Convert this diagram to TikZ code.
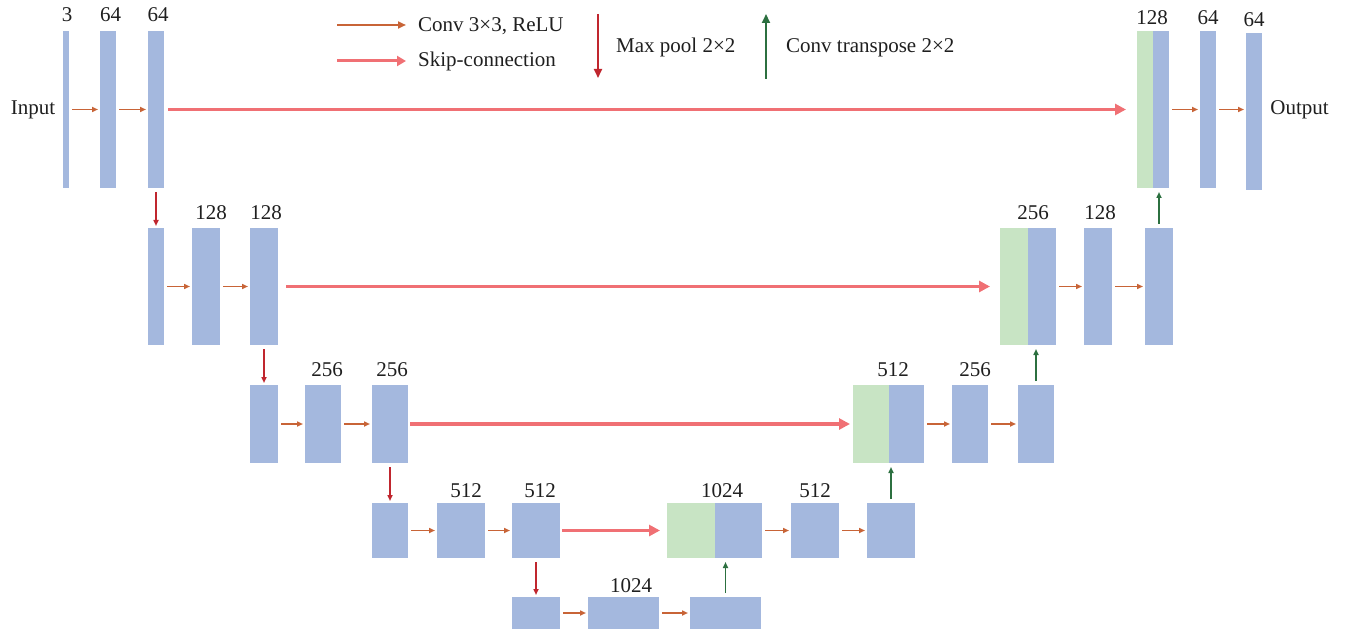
\documentclass[tikz,border=0pt]{standalone}
\usepackage{fontspec}
\setmainfont{Liberation Serif}
\usetikzlibrary{arrows.meta,fit}
\definecolor{ublue}{RGB}{164,184,222}
\definecolor{ugreen}{RGB}{200,228,196}
\definecolor{convc}{RGB}{200,100,55}
\definecolor{skipc}{RGB}{240,112,116}
\definecolor{poolc}{RGB}{192,38,46}
\definecolor{upc}{RGB}{44,112,64}
\newcommand\ublk[6]{\node[#1, fit={(#3,#4) (#5,#6)}] (#2) {};}
\begin{document}
\begin{tikzpicture}[x=1pt,y=-1pt,
  bl/.style={fill=ublue, draw=none, inner sep=0pt, outer sep=0pt},
  gr/.style={fill=ugreen, draw=none, inner sep=0pt, outer sep=0pt},
  txt/.style={font=\fontsize{21}{25}\selectfont, text=black!88, inner sep=0pt, anchor=base},
  ltxt/.style={font=\fontsize{21}{25}\selectfont, text=black!88, inner sep=0pt, anchor=base west},
  conv/.style={draw=convc, line width=1.5pt, -{Triangle[length=6pt,width=5pt]}, shorten <=3pt, shorten >=2pt},
  skip/.style={draw=skipc, line width=3.2pt, -{Triangle[length=11pt,width=11pt]}},
  pool/.style={draw=poolc, line width=1.5pt, -{Triangle[length=6pt,width=5pt]}, shorten <=4pt, shorten >=2pt},
  upc/.style={draw=upc, line width=1.5pt, -{Triangle[length=6pt,width=5pt]}, shorten <=4pt, shorten >=4pt},
]
\useasboundingbox (0,0) rectangle (1345,631);
% level 1
\ublk{bl}{a1}{63}{31}{69}{188}
\ublk{bl}{a2}{100}{31}{116}{188}
\ublk{bl}{a3}{148}{31}{164}{188}
\ublk{gr}{g1}{1137}{31}{1153}{188}
\ublk{bl}{c1}{1153}{31}{1169}{188}
\ublk{bl}{a4}{1200}{31}{1216}{188}
\ublk{bl}{a5}{1246}{33}{1262}{190}
% level 2
\ublk{bl}{b1}{148}{228}{164}{345}
\ublk{bl}{b2}{192}{228}{220}{345}
\ublk{bl}{b3}{250}{228}{278}{345}
\ublk{gr}{g2}{1000}{228}{1028}{345}
\ublk{bl}{c2}{1028}{228}{1056}{345}
\ublk{bl}{b4}{1084}{228}{1112}{345}
\ublk{bl}{b5}{1145}{228}{1173}{345}
% level 3
\ublk{bl}{d1}{250}{385}{278}{463}
\ublk{bl}{d2}{305}{385}{341}{463}
\ublk{bl}{d3}{372}{385}{408}{463}
\ublk{gr}{g3}{853}{385}{889}{463}
\ublk{bl}{c3}{889}{385}{924}{463}
\ublk{bl}{d4}{952}{385}{988}{463}
\ublk{bl}{d5}{1018}{385}{1054}{463}
% level 4
\ublk{bl}{e1}{372}{503}{408}{558}
\ublk{bl}{e2}{437}{503}{485}{558}
\ublk{bl}{e3}{512}{503}{560}{558}
\ublk{gr}{g4}{667}{503}{715}{558}
\ublk{bl}{c4}{715}{503}{762}{558}
\ublk{bl}{e4}{791}{503}{839}{558}
\ublk{bl}{e5}{867}{503}{915}{558}
% level 5
\ublk{bl}{f1}{512}{597}{560}{629}
\ublk{bl}{f2}{588}{597}{659}{629}
\ublk{bl}{f3}{690}{597}{761}{629}
% labels
\node[txt] (t1) at (67,22) {3};
\node[txt] (t2) at (110.5,22) {64};
\node[txt] (t3) at (158,22) {64};
\node[txt] (t4) at (1152,25) {128};
\node[txt] (t5) at (1208,25) {64};
\node[txt] (t6) at (1254,27) {64};
\node[txt] (t7) at (211,220) {128};
\node[txt] (t8) at (266,220) {128};
\node[txt] (t9) at (1033,220) {256};
\node[txt] (t10) at (1100,220) {128};
\node[txt] (t11) at (327,376) {256};
\node[txt] (t12) at (392,376) {256};
\node[txt] (t13) at (893,376) {512};
\node[txt] (t14) at (975,376) {256};
\node[txt] (t15) at (466,497) {512};
\node[txt] (t16) at (540,497) {512};
\node[txt] (t17) at (722,497) {1024};
\node[txt] (t18) at (815,497) {512};
\node[txt] (t19) at (631,592) {1024};
\node[txt] (in) at (33,115) {Input};
\node[txt] (out) at (1299.5,115) {Output};
% conv arrows
\draw[conv] (a1.east) -- (a2.west);
\draw[conv] (a2.east) -- (a3.west);
\draw[conv] (c1.east) -- (a4.west);
\draw[conv] (a4.east) -- (a4.east -| a5.west);
\draw[conv] (b1.east) -- (b2.west);
\draw[conv] (b2.east) -- (b3.west);
\draw[conv] (c2.east) -- (b4.west);
\draw[conv] (b4.east) -- (b5.west);
\draw[conv] (d1.east) -- (d2.west);
\draw[conv] (d2.east) -- (d3.west);
\draw[conv] (c3.east) -- (d4.west);
\draw[conv] (d4.east) -- (d5.west);
\draw[conv] (e1.east) -- (e2.west);
\draw[conv] (e2.east) -- (e3.west);
\draw[conv] (c4.east) -- (e4.west);
\draw[conv] (e4.east) -- (e5.west);
\draw[conv] (f1.east) -- (f2.west);
\draw[conv] (f2.east) -- (f3.west);
% skip connections
\draw[skip, shorten <=4pt, shorten >=11pt] (a3.east) -- (a3.east -| g1.west);
\draw[skip, shorten <=8pt, shorten >=10pt] (b3.east) -- (b3.east -| g2.west);
\draw[skip, shorten <=2pt, shorten >=3pt] (d3.east) -- (d3.east -| g3.west);
\draw[skip, shorten <=2pt, shorten >=7pt] (e3.east) -- (e3.east -| g4.west);
% max pool
\draw[pool] (a3.south) -- (b1.north);
\draw[pool] (b3.south) -- (d1.north);
\draw[pool] (d3.south) -- (e1.north);
\draw[pool] (e3.south) -- (f1.north);
% up conv
\draw[upc] (f3.north) -- (f3.north |- c4.south);
\draw[upc] (e5.north) -- (e5.north |- c3.south);
\draw[upc] (d5.north) -- (d5.north |- c2.south);
\draw[upc] (b5.north) -- (b5.north |- c1.south);
% legend
\coordinate (lc1) at (337,25); \coordinate (lc2) at (406,25);
\coordinate (ls1) at (337,61); \coordinate (ls2) at (406,61);
\coordinate (lp1) at (598,14); \coordinate (lp2) at (598,78);
\coordinate (lu1) at (766,79); \coordinate (lu2) at (766,14);
\draw[draw=convc, line width=2pt, -{Triangle[length=8pt,width=7pt]}] (lc1) -- (lc2);
\draw[draw=skipc, line width=3pt, -{Triangle[length=9pt,width=10pt]}] (ls1) -- (ls2);
\draw[draw=poolc, line width=2pt, -{Triangle[length=9pt,width=8pt]}] (lp1) -- (lp2);
\draw[draw=upc, line width=2pt, -{Triangle[length=9pt,width=8pt]}] (lu1) -- (lu2);
\node[ltxt] (lct) at (418,32) {Conv 3×3, ReLU};
\node[ltxt] (lst) at (418,67) {Skip-connection};
\node[ltxt] (lpt) at (616,53) {Max pool 2×2};
\node[ltxt] (lut) at (786,53) {Conv transpose 2×2};
\end{tikzpicture}
\end{document}
